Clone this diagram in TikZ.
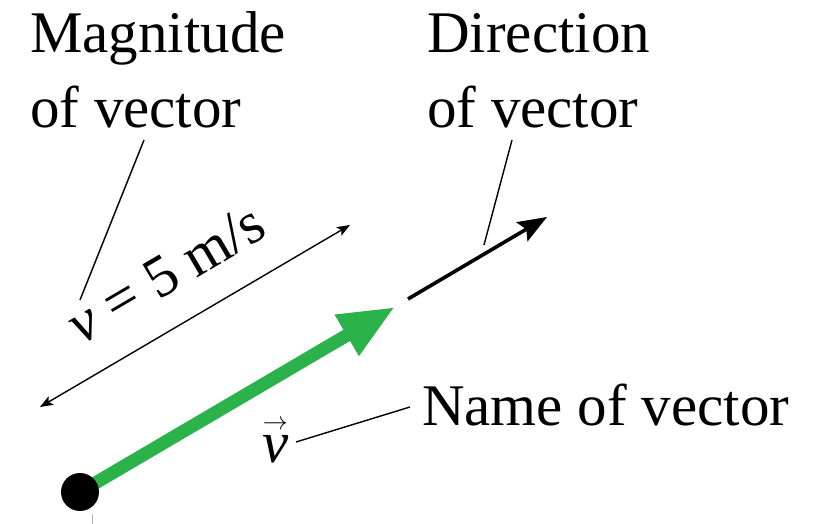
\documentclass[tikz,border=0pt]{standalone}
\usepackage{amsmath}
\usepackage{fontspec}
\setmainfont{Liberation Serif}
\usetikzlibrary{arrows.meta}
\definecolor{vgreen}{RGB}{44,178,75}
\begin{document}
\begin{tikzpicture}[x=1pt,y=-1pt,
  lbl/.style={font=\fontsize{59}{75}\selectfont, inner sep=0pt, align=left},
  leader/.style={line width=1.4pt},
  dimline/.style={line width=1.4pt, {Stealth[length=13pt,width=10pt,inset=3pt]}-{Stealth[length=13pt,width=10pt,inset=3pt]}},
  dirarrow/.style={line width=3.6pt, -{Stealth[length=29pt,width=22pt,inset=5pt]}},
  vecarrow/.style={vgreen, line width=13pt, -{Triangle[length=56pt,width=44pt]}},
  ]
\useasboundingbox (0,0) rectangle (823,524);
% labels (base anchor = last line baseline)
\node[lbl, anchor=base west] (mag) at (30,128) {Magnitude\\of vector};
\node[lbl, anchor=base west] (dir) at (427,128) {Direction\\of vector};
\node[lbl, anchor=base west] (name) at (422,425) {Name of vector};
\node[lbl, anchor=base west] (vname) at (262,462) {$\overset{\scriptscriptstyle\rightarrow}{\mathit{v}}$};
% green vector
\coordinate (tail) at (80,492);
\coordinate (tip) at (395,307);
\draw[vecarrow] (tail) -- (tip);
\node[circle, fill=black, minimum size=38pt, inner sep=0pt] (dot) at (tail) {};
\draw[line width=1pt, black!30] (92,514) -- (92,524);
% direction arrow
\coordinate (d0) at (408,299);
\coordinate (d1) at (547,217);
\draw[dirarrow] (d0) -- (d1);
% magnitude dimension line
\coordinate (a0) at (40,407);
\coordinate (a1) at (350,225);
\draw[dimline] (a0) -- (a1);
\node[lbl, anchor=base, rotate=30.4] (speed) at (175.5,290.3) {\textit{v} = 5 m/s};
% leaders
\coordinate (m0) at (144,140);
\coordinate (m1) at (80,300);
\draw[leader] (m0) -- (m1);
\coordinate (r0) at (512,140);
\coordinate (r1) at (484,245);
\draw[leader] (r0) -- (r1);
\coordinate (n0) at (410,407);
\coordinate (n1) at (296,442);
\draw[leader] (n0) -- (n1);
\end{tikzpicture}
\end{document}
